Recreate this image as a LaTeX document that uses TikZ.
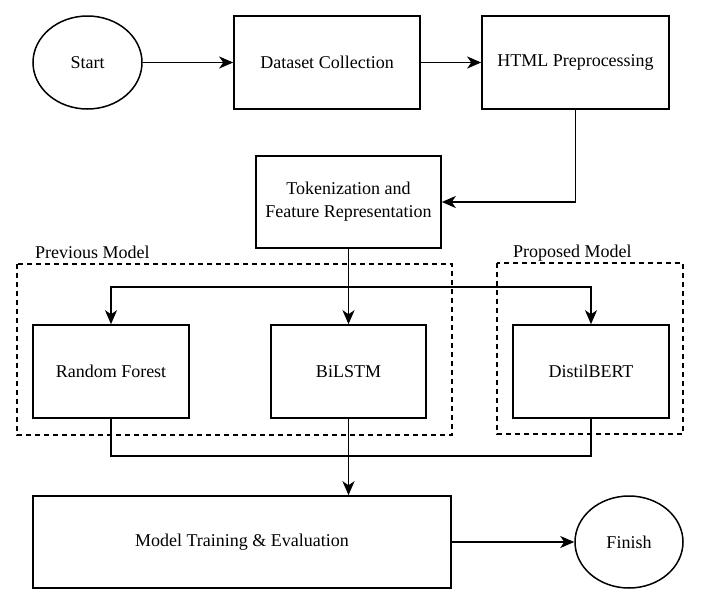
\documentclass[tikz,border=0pt]{standalone}
\usepackage{fontspec}
\setmainfont{Liberation Serif}
\usetikzlibrary{shapes.geometric,arrows.meta}
\begin{document}
\begin{tikzpicture}[x=1pt,y=-1pt,
  every node/.style={font=\rmfamily\fontsize{18}{23}\selectfont},
  procbox/.style={draw, line width=1.6pt, rectangle, align=center, inner sep=0pt},
  terminal/.style={draw, line width=1.5pt, ellipse, inner sep=0pt},
  group/.style={draw, line width=1.4pt, dash pattern=on 5pt off 4pt},
  grouplabel/.style={anchor=base west, inner sep=0pt},
  flow/.style={line width=1.5pt, -{Stealth[length=14pt,width=12pt,inset=4pt]}},
  plain/.style={line width=1.3pt}
]
\useasboundingbox (0,0) rectangle (702,611);
% groups
\draw[group] (17,264) rectangle (452,435);
\node[grouplabel] (prevlbl) at (35,258) {Previous Model};
\draw[group] (497,263) rectangle (683,434);
\node[grouplabel] (proplbl) at (513,257) {Proposed Model};
% nodes
\node[terminal, minimum width=109pt, minimum height=93pt] (start) at (87.5,62.5) {Start};
\node[procbox, minimum width=186pt, minimum height=93pt] (dataset) at (327,62.5) {Dataset Collection};
\node[procbox, minimum width=187pt, minimum height=93pt] (html) at (575.5,62.5) {HTML Preprocessing};
\node[procbox, minimum width=185pt, minimum height=92pt] (tok) at (348.5,202) {Tokenization and\\Feature Representation};
\node[procbox, minimum width=156pt, minimum height=93pt] (rf) at (111,371.5) {Random Forest};
\node[procbox, minimum width=155pt, minimum height=93pt] (bilstm) at (348.5,371.5) {BiLSTM};
\node[procbox, minimum width=156pt, minimum height=93pt] (distil) at (591,371.5) {DistilBERT};
\node[procbox, minimum width=418pt, minimum height=92pt] (train) at (242,542) {Model Training \& Evaluation};
\node[terminal, minimum width=108pt, minimum height=92pt] (finish) at (629,542) {Finish};
\coordinate (split) at (348.5,287);
\coordinate (merge) at (348.5,456);
% connectors
\draw[flow] (start) -- (dataset);
\draw[flow] (dataset) -- (html);
\draw[flow] (html.south) |- (tok.east);
\draw[flow] (tok.south) -- (bilstm.north);
\draw[flow] (split) -| (rf.north);
\draw[flow] (split) -| (distil.north);
\draw[plain] (rf.south) |- (merge) -| (distil.south);
\draw[flow] (bilstm.south) -- (bilstm.south |- train.north);
\draw[flow] (train) -- (finish);
\end{tikzpicture}
\end{document}
